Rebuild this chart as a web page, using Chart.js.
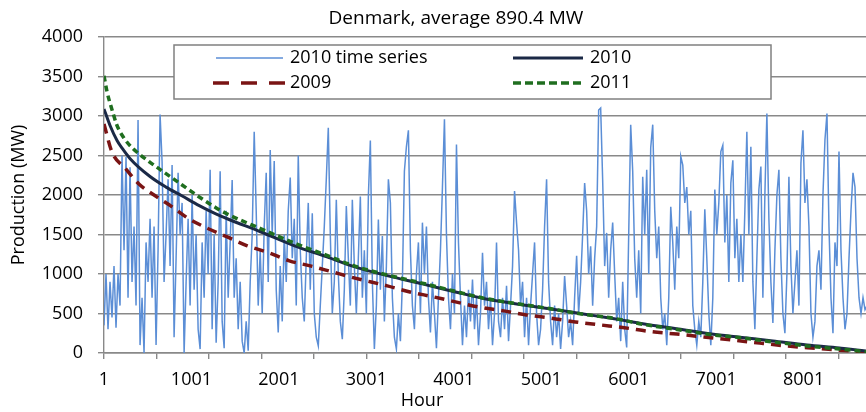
<!DOCTYPE html>
<html>
<head>
<meta charset="utf-8">
<script src="https://cdn.jsdelivr.net/npm/chart.js@4.4.1/dist/chart.umd.min.js"></script>
<style>
    html, body { margin: 0; padding: 0; background: #fff; overflow: hidden; }
    #wrap { width: 866px; height: 412px; overflow: hidden; }
</style>
</head>
<body>
<div id="wrap"><canvas id="chart" width="870" height="412"></canvas></div>
<script>
// Denmark wind production, hourly 2010 series plus sorted duration curves
const titleText = 'Denmark, average 890.4 MW';
const xLabelValues = [1, 1001, 2001, 3001, 4001, 5001, 6001, 7001, 8001];
const xTickMarks = [1, 601, 1201, 1801, 2401, 3001, 3601, 4201, 4801, 5401, 6001, 6601, 7201, 7801, 8401];

// 2010 time series, sampled every tsStep hours starting at hour 1
const tsStart = 1;
const tsStep = 22.9;
const ts2010 = [
    350, 1000, 300, 900, 450, 1100, 320, 1000, 600, 2500, 1300, 2480, 700, 2350, 900, 1600, 600, 2950, 100, 700,
    0, 1400, 900, 1700, 700, 1600, 100, 1300, 3020, 2420, 900, 1500, 2200, 1100, 2380, 200, 1200, 2280, 1500, 1900,
    0, 900, 1700, 600, 2000, 800, 1500, 300, 50, 1400, 700, 1800, 1000, 2320, 300, 1500, 130, 900, 2300, 400,
    60, 1800, 700,
    1400, 2190, 700, 1200, 300, 900, 150, 0, 400, 30, 900, 1500, 2800, 1800, 600, 1300, 500, 1600, 2280, 900,
    2570, 1500, 2430, 800, 260, 1100, 400, 1500, 900, 1800, 2220, 1200, 1700, 600, 2500, 1300, 700, 400, 1200, 1900,
    800, 1770, 500, 200, 90, 600, 1100, 1600, 2200, 2850, 1500, 500, 900, 1940, 1000, 400, 175, 800, 1860, 1200,
    600, 1940, 1100, 500,
    1200, 1980, 700, 1300, 500, 1980, 2690, 900, 50, 600, 1690, 800, 1480, 400, 1100, 2200, 1900, 700, 200, 50,
    500, 150, 900, 2300, 2610, 2820, 1300, 600, 300, 1000, 1400, 500, 1650, 1000, 1600, 700, 260, 900, 500, 60,
    700, 1300, 2100, 2960, 1500, 700, 300, 1000, 500, 2640, 1400, 700, 100, 600, 200, 800, 400, 930, 300, 700,
    100, 500, 1270, 600,
    900, 300, 700, 100, 500, 1400, 400, 200, 700, 300, 850, 150, 600, 1100, 2050, 1650, 1300, 600, 900, 200,
    700, 100, 600, 1000, 1400, 500, 100, 300, 800, 1600, 2200, 900, 400, 100, 600, 200, 500, 50, 400, 975,
    600, 200, 400, 100, 700, 1230, 500, 900, 1500, 2150, 1800, 1000, 1350, 600, 1200, 1600, 3075, 3100, 2190, 1100,
    1520, 700, 1300, 1650,
    1000, 400, 700, 150, 900, 300, 70, 1500, 2890, 2300, 1200, 700, 1300, 500, 2230, 1500, 2320, 1000, 2600, 2890,
    1800, 1200, 1600, 700, 300, 500, 100, 700, 1850, 1400, 800, 1600, 1200, 2490, 2380, 1900, 2100, 1500, 1800, 600,
    300, 100, 400, 200, 900, 1820, 1200, 500, 100, 700, 2070, 1500, 1900, 2550, 2630, 1400, 2000, 900, 2150, 2440,
    1200, 1700, 900, 1500,
    900, 1800, 2800, 1500, 2610, 900, 300, 1200, 2070, 2360, 700, 2000, 3030, 1700, 900, 380, 1300, 2000, 2320, 1200,
    500, 250, 1000, 2230, 1100, 500, 900, 1300, 600, 2400, 2820, 1900, 2200, 1600, 500, 200, 400, 1100, 1300, 800,
    2000, 2700, 3030, 1600, 700, 250, 1400, 1100, 2550, 1300, 700, 300, 500, 1200, 1800, 2280, 2100, 1200, 700, 500,
    700, 550, 600, 550
];

// duration curves (hour rank, MW)
const hours2009 = [1, 90, 250, 400, 600, 780, 970, 1200, 1410, 1640, 1890, 2120, 2360, 2610, 2860, 3240, 3500, 3770, 4020, 4280, 4570, 4830, 5100, 5390, 5680, 5950, 6260, 6550, 6860, 7180, 7500, 7810, 8090, 8380, 8760];
const mw2009 = [2900, 2550, 2330, 2140, 1980, 1850, 1700, 1570, 1470, 1357, 1268, 1167, 1103, 1027, 951, 850, 773, 710, 647, 583, 533, 482, 444, 393, 355, 320, 270, 240, 203, 165, 125, 89, 63, 38, 10];

const hours2010 = [1, 70, 150, 210, 300, 520, 710, 890, 1090, 1280, 1430, 1790, 2180, 2550, 2870, 3250, 3640, 4020, 4340, 4720, 5110, 5480, 5800, 6180, 6570, 6950, 7270, 7650, 8040, 8410, 8710, 8760];
const mw2010 = [3090, 2880, 2690, 2590, 2460, 2240, 2100, 1990, 1865, 1760, 1690, 1535, 1357, 1217, 1090, 976, 875, 773, 690, 621, 558, 494, 440, 368, 304, 241, 200, 152, 101, 63, 25, 15];

const hours2011 = [1, 35, 90, 150, 230, 320, 380, 520, 710, 890, 1090, 1280, 1410, 1790, 2180, 2550, 2870, 3250, 3640, 4020, 4340, 4720, 5110, 5480, 5800, 6180, 6570, 6950, 7270, 7650, 8040, 8410, 8710, 8760];
const mw2011 = [3510, 3310, 3090, 2880, 2720, 2600, 2540, 2420, 2270, 2130, 1975, 1840, 1760, 1575, 1390, 1235, 1100, 985, 885, 780, 695, 625, 560, 490, 445, 360, 295, 230, 195, 140, 90, 50, 15, 5];

const COLORS = {
    series: '#5B8ED6',
    y2009: '#7A1414',
    y2010: '#1B2946',
    y2011: '#1F6E1F',
    grid: '#898989'
};
const FONT = 'Open Sans';

const pairs = (xs, ys) => xs.map((x, i) => ({ x: x, y: ys[i] }));
const tsPoints = ts2010.map((v, i) => ({ x: tsStart + i * tsStep, y: v }));
const allTicks = Array.from(new Set([...xTickMarks, ...xLabelValues])).sort((a, b) => a - b);

// title, x-axis title and the boxed legend are drawn by hand to sit where Excel put them
const annotations = {
    id: 'annotations',
    afterDatasetsDraw(chart) {
        const ctx = chart.ctx;
        ctx.save();
        ctx.fillStyle = '#000';
        ctx.textBaseline = 'middle';
        ctx.font = `19px "${FONT}"`;
        ctx.textAlign = 'center';
        ctx.fillText(titleText, 456, 19);
        ctx.font = `18px "${FONT}"`;
        ctx.fillText('Hour', 422, 401);

        // legend box
        ctx.fillStyle = '#fff';
        ctx.fillRect(174, 45, 597, 54);
        ctx.strokeStyle = '#808080';
        ctx.lineWidth = 1.5;
        ctx.strokeRect(174, 45, 597, 54);

        const items = [
            { label: '2010 time series', color: COLORS.series, width: 1.5, dash: [], x0: 216, x1: 283, y: 58, tx: 290 },
            { label: '2010', color: COLORS.y2010, width: 3, dash: [], x0: 513, x1: 583, y: 58, tx: 590 },
            { label: '2009', color: COLORS.y2009, width: 3.5, dash: [16, 12], x0: 213, x1: 285, y: 83, tx: 290 },
            { label: '2011', color: COLORS.y2011, width: 3.5, dash: [8, 4], x0: 513, x1: 583, y: 83, tx: 590 }
        ];
        items.forEach(it => {
            ctx.beginPath();
            ctx.setLineDash(it.dash);
            ctx.strokeStyle = it.color;
            ctx.lineWidth = it.width;
            ctx.moveTo(it.x0, it.y);
            ctx.lineTo(it.x1, it.y);
            ctx.stroke();
            ctx.setLineDash([]);
            ctx.fillStyle = '#000';
            ctx.textAlign = 'left';
            ctx.fillText(it.label, it.tx, it.y);
        });
        ctx.restore();
    }
};

new Chart(document.getElementById('chart'), {
    type: 'line',
    data: {
        datasets: [
            {
                label: '2010 time series',
                data: tsPoints,
                borderColor: COLORS.series,
                borderWidth: 1.5,
                pointRadius: 0,
                tension: 0,
                order: 4
            },
            {
                label: '2009',
                data: pairs(hours2009, mw2009),
                borderColor: COLORS.y2009,
                borderWidth: 3.5,
                borderDash: [10, 7],
                pointRadius: 0,
                cubicInterpolationMode: 'monotone',
                order: 3
            },
            {
                label: '2010',
                data: pairs(hours2010, mw2010),
                borderColor: COLORS.y2010,
                borderWidth: 3,
                pointRadius: 0,
                cubicInterpolationMode: 'monotone',
                order: 2
            },
            {
                label: '2011',
                data: pairs(hours2011, mw2011),
                borderColor: COLORS.y2011,
                borderWidth: 3.5,
                borderDash: [6, 4],
                pointRadius: 0,
                cubicInterpolationMode: 'monotone',
                order: 1
            }
        ]
    },
    options: {
        responsive: false,
        animation: false,
        devicePixelRatio: 1,
        layout: { padding: { top: 37, right: 0, bottom: 0, left: 0 } },
        plugins: {
            legend: { display: false },
            title: { display: false },
            tooltip: { enabled: false }
        },
        scales: {
            x: {
                type: 'linear',
                min: 1,
                max: 8760,
                afterBuildTicks(scale) {
                    scale.ticks = allTicks.map(v => ({ value: v }));
                },
                afterFit(scale) { scale.height = 59; },
                ticks: {
                    autoSkip: false,
                    maxRotation: 0,
                    padding: 10,
                    color: '#000',
                    font: { family: FONT, size: 18 },
                    callback: v => xLabelValues.includes(v) ? String(v) : ''
                },
                grid: {
                    drawOnChartArea: false,
                    tickLength: 6,
                    lineWidth: 1.4,
                    tickColor: ctx => (ctx.tick && xTickMarks.includes(ctx.tick.value)) ? COLORS.grid : 'rgba(0,0,0,0)'
                },
                border: { color: COLORS.grid, width: 1.4 },
                title: { display: false }
            },
            y: {
                min: 0,
                max: 4000,
                afterFit(scale) { scale.width = 104; },
                ticks: {
                    stepSize: 500,
                    padding: 15,
                    color: '#000',
                    font: { family: FONT, size: 18 },
                    callback: v => String(v)
                },
                grid: { color: COLORS.grid, lineWidth: 1.4, tickLength: 6 },
                border: { color: COLORS.grid, width: 1.4 },
                title: {
                    display: true,
                    text: 'Production (MW)',
                    color: '#000',
                    font: { family: FONT, size: 18 },
                    padding: { top: 8, bottom: 0 }
                }
            }
        }
    },
    plugins: [annotations]
});
</script>
</body>
</html>
